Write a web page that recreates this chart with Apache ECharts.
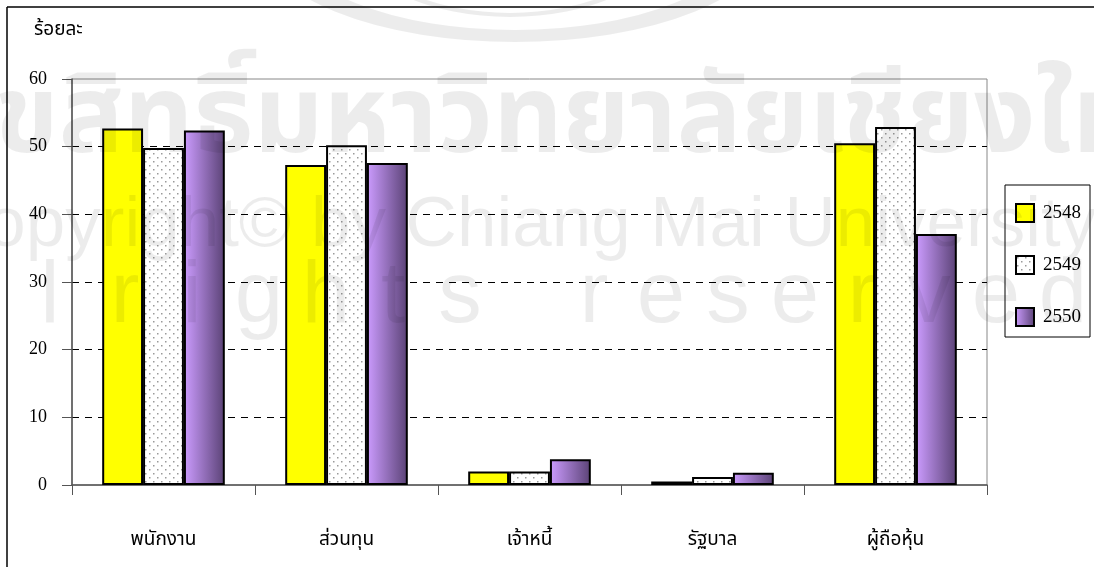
<!DOCTYPE html>
<html>
<head>
<meta charset="utf-8">
<script src="https://cdn.jsdelivr.net/npm/echarts@6/dist/echarts.min.js"></script>
<style>
  html, body { margin: 0; padding: 0; background: #fff; }
  #main { width: 1094px; height: 567px; }
</style>
</head>
<body>
<div id="main"></div>
<script>
// ข้อมูลของกราฟ
var categories = ['พนักงาน', 'ส่วนทุน', 'เจ้าหนี้', 'รัฐบาล', 'ผู้ถือหุ้น'];
var years = ['2548', '2549', '2550'];
var data2548 = [52.7, 47.3, 2.0, 0.5, 50.5];
var data2549 = [49.8, 50.2, 2.0, 1.2, 52.9];
var data2550 = [52.4, 47.6, 3.8, 1.8, 37.1];
var yTicks = [0, 10, 20, 30, 40, 50, 60];

// ลายจุดสำหรับปี 2549
function dotPattern() {
  var c = document.createElement('canvas');
  c.width = 8; c.height = 8;
  var ctx = c.getContext('2d');
  ctx.fillStyle = '#fff';
  ctx.fillRect(0, 0, 8, 8);
  ctx.fillStyle = '#9a9a9a';
  ctx.fillRect(1, 1, 1.5, 1.5);
  ctx.fillRect(5, 5, 1.5, 1.5);
  return c;
}

var purple = new echarts.graphic.LinearGradient(0, 0, 1, 0, [
  { offset: 0, color: '#cc9cff' },
  { offset: 1, color: '#5a4275' }
]);

var serif = '"Liberation Serif", "Times New Roman", serif';
var thai = '"Noto Sans Thai", "Liberation Serif", "DejaVu Sans", serif';
var sans = '"Liberation Sans", Arial, sans-serif';
var wmColor = 'rgba(0,0,0,0.075)';

var chart = echarts.init(document.getElementById('main'));

function barSeries(name, data, color) {
  return {
    name: name,
    type: 'bar',
    data: data,
    barGap: 0,
    barCategoryGap: '33%',
    itemStyle: {
      color: color,
      borderColor: '#000',
      borderWidth: 2
    }
  };
}

// ลายน้ำ "All rights reserved" แบบเว้นระยะตัวอักษร
function spacedWatermark() {
  var words = ['All', 'rights', 'reserved'];
  var items = [];
  var x = 50 - 2 * 67;
  words.forEach(function (w, wi) {
    for (var i = 0; i < w.length; i++) {
      items.push({
        type: 'text', z: 100, silent: true,
        style: { x: x, y: 342, text: w[i], font: '87px ' + sans, fill: wmColor,
                 align: 'center', verticalAlign: 'bottom' }
      });
      x += 67;
    }
    x += wi === 0 ? 8 : 67;
  });
  return items;
}

var graphics = [
  { type: 'text', left: 34, top: 22,
    style: { text: 'ร้อยละ', font: '19px ' + thai, fill: '#000' } },
  { type: 'line', shape: { x1: 7, y1: 7, x2: 1094, y2: 7 },
    style: { stroke: '#000', lineWidth: 1.5 } },
  { type: 'line', shape: { x1: 7, y1: 7, x2: 7, y2: 567 },
    style: { stroke: '#000', lineWidth: 1.5 } },
  // ลายน้ำ
  { type: 'circle', z: 100, silent: true, x: 515, y: -62, scaleX: 2.45, scaleY: 1,
    shape: { cx: 0, cy: 0, r: 98 },
    style: { fill: 'none', stroke: wmColor, lineWidth: 12, strokeNoScale: true } },
  { type: 'circle', z: 100, silent: true, x: 510, y: -60, scaleX: 2.0, scaleY: 1,
    shape: { cx: 0, cy: 0, r: 75 },
    style: { fill: 'none', stroke: wmColor, lineWidth: 4, strokeNoScale: true } },
  { type: 'text', z: 100, silent: true,
    style: { x: -70, y: 130, text: 'ลิขสิทธิ์มหาวิทยาลัยเชียงใหม่', font: 'bold 108px ' + thai,
             fill: wmColor, verticalAlign: 'middle' } },
  { type: 'text', z: 100, silent: true,
    style: { x: -65, y: 262, text: 'Copyright© by Chiang Mai University', font: '71px ' + sans,
             fill: wmColor, verticalAlign: 'bottom' } }
].concat(spacedWatermark());

var option = {
  animation: false,
  grid: {
    left: 72, right: 107, top: 79, bottom: 82,
    show: true,
    borderColor: '#888',
    borderWidth: 1
  },
  legend: {
    orient: 'vertical',
    left: 1005,
    top: 185,
    padding: [18, 9, 10, 10],
    itemWidth: 18,
    itemHeight: 18,
    itemGap: 32,
    icon: 'rect',
    borderColor: '#000',
    borderWidth: 1,
    data: years,
    textStyle: { fontFamily: serif, fontSize: 19, color: '#000', padding: [0, 0, 0, 4] }
  },
  xAxis: {
    type: 'category',
    data: categories,
    axisLine: { lineStyle: { color: '#555', width: 1.5 } },
    axisTick: { show: true, length: 10, lineStyle: { color: '#555' } },
    axisLabel: { margin: 47, fontFamily: thai, fontSize: 19, color: '#000' }
  },
  yAxis: {
    type: 'value',
    min: yTicks[0],
    max: yTicks[yTicks.length - 1],
    interval: 10,
    axisLine: { show: true, lineStyle: { color: '#555', width: 1.5 } },
    axisTick: { show: true, length: 10, lineStyle: { color: '#555' } },
    axisLabel: { margin: 25, fontFamily: serif, fontSize: 18, color: '#000' },
    splitLine: {
      show: true,
      showMinLine: false,
      showMaxLine: false,
      lineStyle: { color: '#000', type: [7, 6], width: 1 }
    }
  },
  graphic: graphics,
  series: [
    barSeries(years[0], data2548, '#ffff00'),
    barSeries(years[1], data2549, { image: dotPattern(), repeat: 'repeat' }),
    barSeries(years[2], data2550, purple)
  ]
};

chart.setOption(option);
</script>
</body>
</html>
